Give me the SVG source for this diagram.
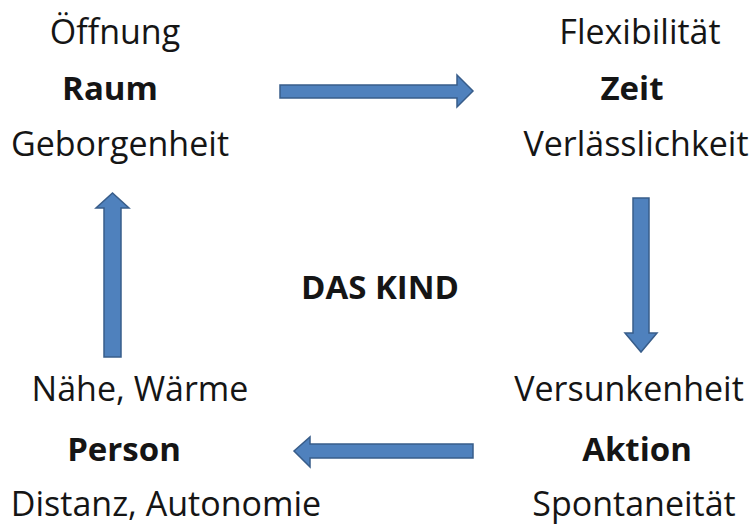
<svg xmlns="http://www.w3.org/2000/svg" width="751" height="527" viewBox="0 0 751 527">
<style>
text{font-family:"Open Sans","Noto Sans","Liberation Sans",sans-serif;font-size:34px;fill:#151515;text-anchor:middle}
.b{font-weight:bold;font-size:33px}
.arrow{fill:#4F81BD;stroke:#385D8A;stroke-width:1.5}
</style>
<rect width="751" height="527" fill="#ffffff"/>
<g id="raum">
<text x="115" y="44">Öffnung</text>
<text x="110" y="100" class="b">Raum</text>
<text x="120" y="156">Geborgenheit</text>
</g>
<g id="zeit">
<text x="640" y="44">Flexibilität</text>
<text x="632" y="100" class="b">Zeit</text>
<text x="636" y="156">Verlässlichkeit</text>
</g>
<g id="person">
<text x="140" y="401">Nähe, Wärme</text>
<text x="124" y="461" class="b">Person</text>
<text x="166" y="516">Distanz, Autonomie</text>
</g>
<g id="aktion">
<text x="629" y="401">Versunkenheit</text>
<text x="637" y="461" class="b">Aktion</text>
<text x="634" y="516">Spontaneität</text>
</g>
<g id="kind">
<text x="380" y="299" class="b">DAS KIND</text>
</g>
<g id="connectors">
<polygon class="arrow" points="280,85 457,85 457,75 473,91 457,107 457,98 280,98"/>
<polygon class="arrow" points="633,198 649,198 649,333 657,333 641,352 625,333 633,333"/>
<polygon class="arrow" points="104,357 121,357 121,208 129,208 112.5,193 96,208 104,208"/>
<polygon class="arrow" points="473,444 473,458 310,458 310,467 294,451 310,437 310,444"/>
</g>
</svg>
